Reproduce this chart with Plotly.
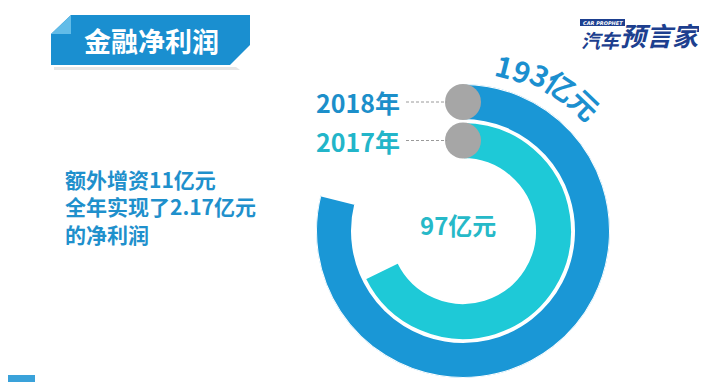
import math
import plotly.graph_objects as go

# ---------------- data ----------------
years = ["2018年", "2017年"]
values = [193, 97]                     # 亿元
value_units = "亿元"
arc_percent = [78.9, 67.8]             # share of the full circle each ring covers
title_text = "金融净利润"
note_lines = ["额外增资11亿元", "全年实现了2.17亿元", "的净利润"]

# ---------------- geometry / style ----------------
W, H = 707, 382
CX, CY, R = 455, 223, 147
ring_base = [111, 72]
ring_thick = [36, 37]
ring_colors = ["#1a97d6", "#1ec9d7"]
label_colors = ["#1c8fca", "#22b5c9"]
FONT = "Noto Sans CJK SC"


def px(x, y):
    return x / W, 1 - y / H


fig = go.Figure()

fig.add_trace(go.Barpolar(
    r=ring_thick,
    base=ring_base,
    theta=[p * 3.6 / 2 for p in arc_percent],
    width=[p * 3.6 for p in arc_percent],
    marker=dict(color=ring_colors, line=dict(color="white", width=2)),
    hoverinfo="skip",
    showlegend=False,
))

cap_r = [b + t / 2 for b, t in zip(ring_base, ring_thick)]
fig.add_trace(go.Scatterpolar(
    r=cap_r, theta=[0, 0], mode="markers",
    marker=dict(size=36, color="#a6a6a6", line=dict(width=0)),
    hoverinfo="skip", showlegend=False,
))

fig.update_layout(
    width=W, height=H,
    margin=dict(l=0, r=0, t=0, b=0),
    paper_bgcolor="white", plot_bgcolor="white",
    polar=dict(
        domain=dict(x=[(CX - R) / W, (CX + R) / W],
                    y=[1 - (CY + R) / H, 1 - (CY - R) / H]),
        bgcolor="rgba(0,0,0,0)",
        hole=0,
        radialaxis=dict(visible=False, range=[0, R]),
        angularaxis=dict(visible=False, direction="clockwise", rotation=90),
        barmode="overlay",
    ),
    font=dict(family=FONT),
)

shapes = []
ann = []


def path(points):
    s = ""
    for i, (x, y) in enumerate(points):
        fx, fy = px(x, y)
        s += ("M" if i == 0 else "L") + f"{fx},{fy} "
    return s + "Z"


# banner
shapes.append(dict(type="path", xref="paper", yref="paper",
                   path=path([(46, 59), (228, 59), (232, 62), (46, 62)]),
                   fillcolor="#e6e6e6", line=dict(width=0)))
shapes.append(dict(type="path", xref="paper", yref="paper",
                   path=path([(43, 26), (63, 7), (242, 7), (242, 37), (222, 57), (43, 57)]),
                   fillcolor="#1a8fd0", line=dict(width=0)))
shapes.append(dict(type="path", xref="paper", yref="paper",
                   path=path([(43, 26), (63, 7), (63, 26)]),
                   fillcolor="#62bce8", line=dict(width=0)))
x0, y0 = px(0, 367)
x1, y1 = px(27, 382)
shapes.append(dict(type="rect", xref="paper", yref="paper", x0=x0, y0=y1, x1=x1, y1=y0,
                   fillcolor="#3aa2da", line=dict(width=0)))

tx, ty = px(143, 33)
ann.append(dict(x=tx, y=ty, xref="paper", yref="paper", text=f"<b>{title_text}</b>",
                showarrow=False, font=dict(size=27, color="white", family=FONT),
                xanchor="center", yanchor="middle"))

# logo
bx0, by0 = px(572, 11)
bx1, by1 = px(617, 18)
shapes.append(dict(type="rect", xref="paper", yref="paper", x0=bx0, y0=by1, x1=bx1, y1=by0,
                   fillcolor="#1d3f8f", line=dict(width=0)))
lx, ly = px(594.5, 14.5)
ann.append(dict(x=lx, y=ly, xref="paper", yref="paper", text="<b><i>CAR PROPHET</i></b>",
                showarrow=False, font=dict(size=5, color="white", family="DejaVu Sans"),
                xanchor="center", yanchor="middle", borderpad=0))
lx, ly = px(593, 32)
ann.append(dict(x=lx, y=ly, xref="paper", yref="paper", text="<b><i>汽车</i></b>",
                showarrow=False, font=dict(size=19, color="#1d3f8f", family=FONT),
                xanchor="center", yanchor="middle", borderpad=0))
lx, ly = px(653, 27)
ann.append(dict(x=lx, y=ly, xref="paper", yref="paper", text="<b><i>预言家</i></b>",
                showarrow=False, font=dict(size=26, color="#1d3f8f", family=FONT),
                xanchor="center", yanchor="middle", borderpad=0))

# year labels + dashed leaders
for i, yr in enumerate(years):
    yy = CY - cap_r[i]
    a0, b0 = px(398, yy)
    a1, _ = px(CX - 16, yy)
    shapes.append(dict(type="line", xref="paper", yref="paper", x0=a0, y0=b0, x1=a1, y1=b0,
                       line=dict(color="#9a9a9a", width=1, dash="3px,2px")))
    lx, ly = px(394, yy)
    ann.append(dict(x=lx, y=ly, xref="paper", yref="paper", text=f"<b>{yr}</b>",
                    showarrow=False, font=dict(size=25, color=label_colors[i], family=FONT),
                    xanchor="right", yanchor="middle"))

# curved value label for outer ring
outer_text = f"{values[0]}{value_units}"
bearings = [14.2, 20.2, 26.4, 34.0, 44.0]
radii = [171, 172, 175, 176, 177]
for ch, bdeg, rr in zip(outer_text, bearings, radii):
    b = math.radians(bdeg)
    x = CX + rr * math.sin(b)
    y = CY - rr * math.cos(b)
    fx, fy = px(x, y)
    ann.append(dict(x=fx, y=fy, xref="paper", yref="paper", text=f"<b>{ch}</b>",
                    showarrow=False, textangle=bdeg,
                    font=dict(size=29, color="#1b8fcf", family=FONT),
                    xanchor="center", yanchor="middle"))

# inner value label
fx, fy = px(450, 216)
ann.append(dict(x=fx, y=fy, xref="paper", yref="paper", text=f"<b>{values[1]}{value_units}</b>",
                showarrow=False, font=dict(size=24, color="#26b9c8", family=FONT),
                xanchor="center", yanchor="middle"))

# note block (single multi-line text)
fx, fy = px(56, 198)
ann.append(dict(x=fx, y=fy, xref="paper", yref="paper",
                text="<br>".join(f"<b>{l}</b>" for l in note_lines),
                showarrow=False, align="left",
                font=dict(size=21, color="#1f90cc", family=FONT),
                xanchor="left", yanchor="middle", borderpad=0))

fig.update_layout(shapes=shapes, annotations=ann)
fig.write_html("out.html")
